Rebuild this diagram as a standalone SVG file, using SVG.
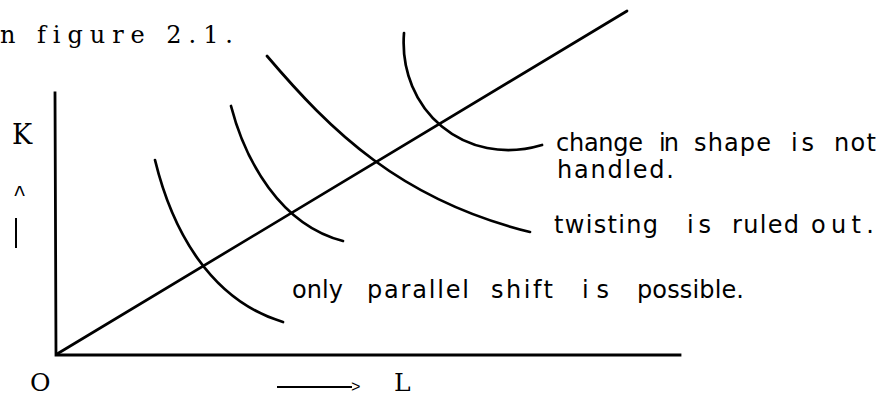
<svg xmlns="http://www.w3.org/2000/svg" width="894" height="397" viewBox="0 0 894 397">
<style>
.ln{fill:none;stroke:#000;stroke-width:2.7;stroke-linecap:round;stroke-linejoin:round}
.ax{fill:none;stroke:#000;stroke-width:2.8;stroke-linecap:square}
.tw{font-family:"DejaVu Serif","Liberation Serif",serif;fill:#000;font-variant-ligatures:none}
.mono{font-family:"Liberation Mono",monospace;fill:#000}
.lab{font-family:"DejaVu Sans","Liberation Sans",sans-serif;font-size:24px;fill:#000}
</style>
<rect width="894" height="397" fill="#fff"/>
<text class="tw" x="0" y="43" font-size="24" textLength="233">n figure 2.1.</text>
<g id="axes">
<path class="ax" d="M55,93 L56,355 L680,355"/>
</g>
<g id="axis-labels">
<text class="tw" x="12" y="144" font-size="27">K</text>
<text class="mono" x="13" y="201" font-size="22">^</text>
<line x1="16" y1="218" x2="16" y2="248" stroke="#000" stroke-width="2"/>
<text class="tw" x="30" y="391" font-size="25">O</text>
<line x1="277" y1="387" x2="352" y2="387" stroke="#000" stroke-width="1.8"/>
<text class="mono" x="351" y="392" font-size="16">&gt;</text>
<text class="tw" x="394" y="391" font-size="25">L</text>
</g>
<g id="connectors">
<path class="ln" d="M57,354 L627,11"/>
</g>
<g id="curve1"><path class="ln" d="M155,160 C172,230 210,300 283,322"/></g>
<g id="curve2"><path class="ln" d="M231,106 C245,160 280,225 343,241"/></g>
<g id="curve3"><path class="ln" d="M267,56 C330,130 400,200 530,232"/></g>
<g id="curve4"><path class="ln" d="M404,33 C398,110 465,168 542,145"/></g>
<g id="label-shape">
<text class="lab" x="556" y="151" textLength="87">change</text>
<text class="lab" x="659" y="151" textLength="20">in</text>
<text class="lab" x="694" y="151" textLength="77">shape</text>
<text class="lab" x="791" y="151" textLength="23">is</text>
<text class="lab" x="834" y="151" textLength="42">not</text>
<text class="lab" x="557" y="178" textLength="117">handled.</text>
</g>
<g id="label-twist">
<text class="lab" x="554" y="233" textLength="104">twisting</text>
<text class="lab" x="687" y="233" textLength="24">is</text>
<text class="lab" x="732" y="233" textLength="67">ruled</text>
<text class="lab" x="811" y="233" textLength="63">out.</text>
</g>
<g id="label-parallel">
<text class="lab" x="292" y="298" textLength="51">only</text>
<text class="lab" x="367" y="298" textLength="102">parallel</text>
<text class="lab" x="491" y="298" textLength="62">shift</text>
<text class="lab" x="582" y="298" textLength="27">is</text>
<text class="lab" x="637" y="298" textLength="107">possible.</text>
</g>
</svg>
